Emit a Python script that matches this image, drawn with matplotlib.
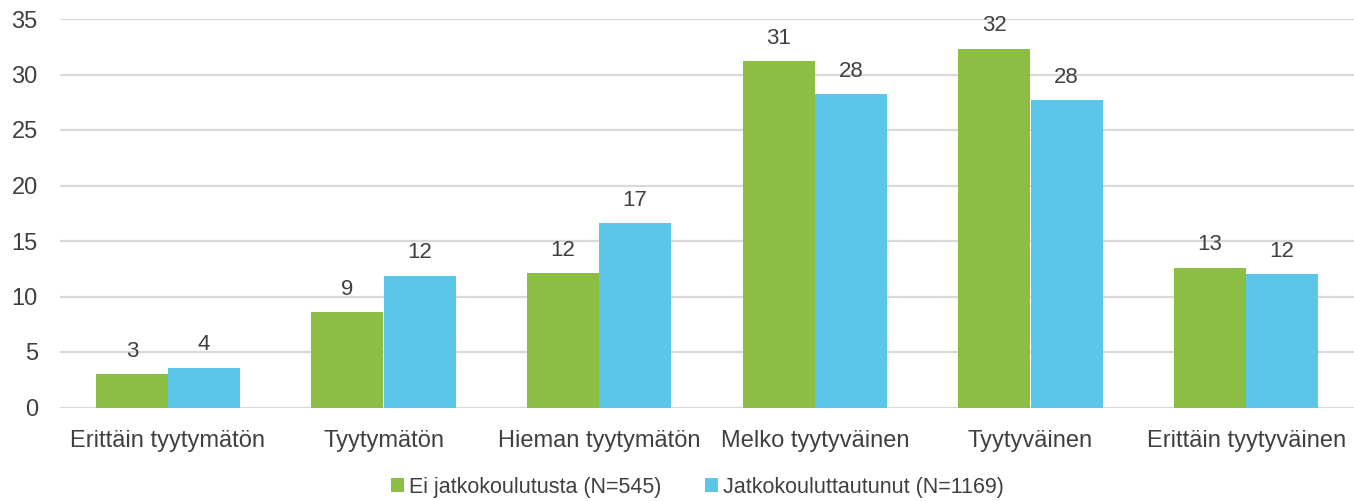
import matplotlib.pyplot as plt
import numpy as np

plt.rcParams['font.family'] = ['Liberation Sans', 'DejaVu Sans']

categories = ["Erittäin tyytymätön", "Tyytymätön", "Hieman tyytymätön",
              "Melko tyytyväinen", "Tyytyväinen", "Erittäin tyytyväinen"]
ei_jatko = [3.0, 8.6, 12.1, 31.2, 32.3, 12.6]
jatko = [3.6, 11.85, 16.6, 28.2, 27.7, 12.0]
ei_labels = ["3", "9", "12", "31", "32", "13"]
jatko_labels = ["4", "12", "17", "28", "28", "12"]

green = "#8DBE44"
blue = "#5BC6E7"
grid_c = "#D9D9D9"
text_c = "#404040"

fig = plt.figure(figsize=(13.54, 5.01), dpi=100)
ax = fig.add_axes([60 / 1354, 1 - 407.5 / 501, 1294 / 1354, 388.5 / 501])

x = np.arange(len(categories))
w = 0.334
b1 = ax.bar(x - w / 2, ei_jatko, w, color=green, label="Ei jatkokoulutusta (N=545)", zorder=3)
b2 = ax.bar(x + w / 2, jatko, w, color=blue, label="Jatkokouluttautunut (N=1169)", zorder=3)

# value labels above the bars
for bars, labs in [(b1, ei_labels), (b2, jatko_labels)]:
    for bar, lab in zip(bars, labs):
        ax.annotate(lab, (bar.get_x() + bar.get_width() / 2, bar.get_height()),
                    xytext=(0, 9), textcoords="offset points", ha="center", va="bottom",
                    fontsize=16, color=text_c)

ax.set_xlim(-0.5, len(categories) - 0.5)
ax.set_ylim(0, 35)
ax.set_yticks(range(0, 36, 5))
ax.set_xticks(x)
ax.set_xticklabels(categories)
ax.yaxis.grid(True, color=grid_c, linewidth=1.6, zorder=0)
ax.set_axisbelow(True)
for s in ax.spines.values():
    s.set_visible(False)
ax.tick_params(axis="both", length=0, labelsize=17, labelcolor=text_c)
ax.tick_params(axis="x", pad=16)
ax.tick_params(axis="y", pad=16)

fig.legend(loc="center", bbox_to_anchor=(0.515, 1 - 487 / 501), ncol=2, frameon=False,
           fontsize=15.5, labelcolor=text_c, handlelength=0.6, handleheight=0.6,
           handletextpad=0.25, columnspacing=2.0)

fig.savefig("out.png", dpi=100)
